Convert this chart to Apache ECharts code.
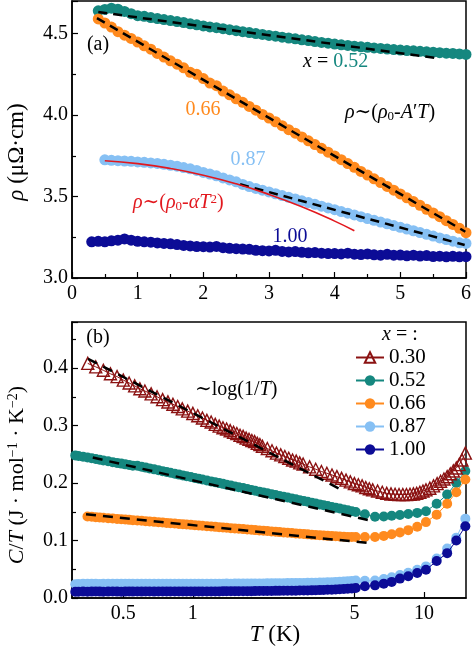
<!DOCTYPE html>
<html><head><meta charset="utf-8">
<script src="https://cdn.jsdelivr.net/npm/echarts@6/dist/echarts.min.js"></script>
<style>html,body{margin:0;padding:0;background:#fff}#c{width:474px;height:651px}</style>
</head><body><div id="c"></div>
<script>
// ---------- Panel (a): resistivity vs T ----------
const tA = [0.3,0.4,0.5,0.6,0.7,0.8,0.9,1.0,1.1,1.2,1.3,1.4,1.5,1.6,1.7,1.8,1.9,2.0,2.1,2.2,2.3,2.4,2.5,2.6,2.7,2.8,2.9,3.0,3.1,3.2,3.3,3.4,3.5,3.6,3.7,3.8,3.9,4.0,4.1,4.2,4.3,4.4,4.5,4.6,4.7,4.8,4.9,5.0,5.1,5.2,5.3,5.4,5.5,5.6,5.7,5.8,5.9,6.0];
const rho052 = [null,4.640,4.648,4.656,4.650,4.636,4.622,4.610,4.606,4.598,4.592,4.586,4.580,4.574,4.568,4.560,4.554,4.547,4.541,4.536,4.530,4.524,4.518,4.512,4.506,4.500,4.495,4.489,4.484,4.478,4.473,4.468,4.462,4.457,4.451,4.446,4.441,4.436,4.431,4.427,4.423,4.419,4.416,4.412,4.409,4.405,4.402,4.399,4.396,4.394,4.391,4.388,4.386,4.383,4.380,4.378,4.375,4.372];
const rho066 = [null,4.590,4.565,4.540,4.512,4.490,4.470,4.448,4.425,4.404,4.378,4.356,4.333,4.312,4.290,4.262,4.250,4.224,4.196,4.180,4.147,4.124,4.100,4.078,4.053,4.030,4.004,3.982,3.959,3.935,3.910,3.889,3.866,3.842,3.819,3.796,3.772,3.749,3.726,3.702,3.679,3.654,3.632,3.609,3.586,3.562,3.539,3.516,3.492,3.469,3.446,3.422,3.399,3.376,3.352,3.329,3.305,3.278];
const rho087 = [null,null,3.725,3.722,3.720,3.718,3.716,3.712,3.710,3.706,3.703,3.698,3.692,3.686,3.678,3.670,3.660,3.648,3.638,3.627,3.614,3.602,3.590,3.574,3.561,3.550,3.539,3.528,3.517,3.506,3.495,3.485,3.474,3.463,3.452,3.441,3.430,3.419,3.408,3.398,3.387,3.376,3.365,3.354,3.343,3.333,3.322,3.311,3.300,3.290,3.279,3.268,3.257,3.246,3.236,3.226,3.216,3.212];
const rho100 = [3.222,3.225,3.222,3.228,3.232,3.240,3.232,3.225,3.222,3.220,3.215,3.212,3.210,3.205,3.200,3.197,3.193,3.192,3.190,3.194,3.186,3.182,3.180,3.178,3.176,3.170,3.168,3.166,3.170,3.163,3.160,3.162,3.158,3.155,3.156,3.152,3.150,3.150,3.148,3.152,3.146,3.144,3.148,3.142,3.140,3.145,3.140,3.141,3.136,3.140,3.135,3.138,3.132,3.134,3.130,3.133,3.130,3.131];
// fits (end points) in panel (a)
const fitA052 = [[0.40,4.632],[5.55,4.350]];
const fitA066 = [[0.38,4.595],[5.99,3.284]];
const fitA087 = [[2.56,3.575],[5.98,3.203]];
const tRed = [0.5,1.0,1.5,2.0,2.5,3.0,3.5,4.0,4.3];
const rhoRed = [3.720,3.702,3.672,3.631,3.578,3.513,3.437,3.349,3.290];

// ---------- Panel (b): C/T vs T (log) ----------
const tB = [0.31,0.32,0.335,0.35,0.365,0.38,0.395,0.41,0.43,0.45,
 0.47,0.49,0.51,0.53,0.55,0.575,0.6,0.625,0.65,0.68,
 0.71,0.74,0.77,0.8,0.835,0.87,0.905,0.94,0.98,1.02,
 1.06,1.1,1.15,1.2,1.25,1.3,1.35,1.4,1.46,1.52,
 1.58,1.65,1.72,1.79,1.86,1.94,2.02,2.1,2.19,2.28,
 2.37,2.47,2.57,2.68,2.79,2.9,3.02,3.14,3.27,3.4,
 3.54,3.68,3.83,3.99,4.15,4.32,4.5,4.68,4.87,5.07,
 5.55,6.14,6.7,7.25,7.87,8.55,9.35,10.2,11.35,12.6,13.8,15.1];
const c052 = [0.248,0.247,0.2456,0.2442,0.2429,0.2416,0.2404,0.2392,0.2378,0.2363,
 0.2350,0.2337,0.2324,0.2312,0.2301,0.2299,0.2284,0.2268,0.2254,0.2237,
 0.2222,0.2206,0.2192,0.2177,0.2161,0.2146,0.2132,0.2118,0.2103,0.2087,
 0.2074,0.2060,0.2043,0.2028,0.2013,0.1998,0.1985,0.1971,0.1956,0.1940,
 0.1926,0.1911,0.1894,0.1880,0.1866,0.1850,0.1836,0.1821,0.1806,0.1791,
 0.1776,0.1761,0.1747,0.1731,0.1716,0.1702,0.1687,0.1673,0.1657,0.1644,
 0.1628,0.1614,0.1599,0.1584,0.1570,0.1555,0.1540,0.1526,0.1510,0.1496,
 0.1456,0.1412,0.1418,0.1430,0.1445,0.1460,0.1480,0.1510,0.1640,0.1800,0.2000,0.2210];
const c066 = [null,null,null,0.1418,0.1412,0.1406,0.1401,0.1395,0.1389,0.1382,
 0.1376,0.1370,0.1364,0.1359,0.1354,0.1347,0.1342,0.1336,0.1330,0.1324,
 0.1318,0.1312,0.1306,0.1301,0.1295,0.1289,0.1283,0.1278,0.1272,0.1266,
 0.1261,0.1256,0.1249,0.1243,0.1237,0.1232,0.1226,0.1221,0.1215,0.1209,
 0.1204,0.1198,0.1192,0.1186,0.1181,0.1175,0.1169,0.1164,0.1158,0.1152,
 0.1146,0.1140,0.1135,0.1129,0.1123,0.1118,0.1112,0.1107,0.1101,0.1096,
 0.1091,0.1086,0.1081,0.1077,0.1073,0.1069,0.1066,0.1063,0.1061,0.1060,
 0.106,0.106,0.108,0.111,0.114,0.118,0.124,0.132,0.145,0.164,0.184,0.206];
const c087 = [0.0240,0.0245,0.0247,0.0246,0.0248,0.0247,0.0245,0.0248,0.0247,0.0246,
 0.0247,0.0248,0.0246,0.0247,0.0248,0.0247,0.0246,0.0248,0.0247,0.0248,
 0.0247,0.0248,0.0247,0.0248,0.0248,0.0247,0.0248,0.0249,0.0248,0.0249,
 0.0249,0.0248,0.0250,0.0249,0.0250,0.0250,0.0249,0.0251,0.0250,0.0251,
 0.0251,0.0252,0.0252,0.0253,0.0253,0.0254,0.0254,0.0255,0.0256,0.0256,
 0.0257,0.0258,0.0259,0.0260,0.0261,0.0262,0.0263,0.0264,0.0266,0.0267,
 0.0269,0.0271,0.0273,0.0275,0.0278,0.0281,0.0285,0.0290,0.0296,0.0303,
 0.0300,0.0305,0.0330,0.0360,0.0400,0.0440,0.0490,0.0550,0.0685,0.0860,0.1050,0.1380];
const c100 = [0.0108,0.0110,0.0111,0.0110,0.0111,0.0112,0.0111,0.0110,0.0111,0.0112,
 0.0111,0.0110,0.0111,0.0112,0.0111,0.0112,0.0111,0.0112,0.0112,0.0111,
 0.0112,0.0112,0.0113,0.0112,0.0113,0.0112,0.0113,0.0113,0.0114,0.0113,
 0.0114,0.0114,0.0115,0.0114,0.0115,0.0115,0.0116,0.0116,0.0117,0.0117,
 0.0118,0.0118,0.0119,0.0119,0.0120,0.0121,0.0121,0.0122,0.0123,0.0124,
 0.0124,0.0125,0.0126,0.0127,0.0128,0.0129,0.0130,0.0131,0.0133,0.0135,
 0.0137,0.0139,0.0142,0.0145,0.0148,0.0152,0.0156,0.0161,0.0167,0.0175,
 0.0203,0.0220,0.0250,0.0280,0.0337,0.0377,0.0435,0.0490,0.0643,0.0780,0.1000,0.1247];
const tTri = [0.351,0.38,0.41,0.44,0.47,0.50,0.53,0.56,0.59,0.62,0.66,0.70,0.74,0.78,0.82,0.86,0.90,0.95,1.00,
 1.05,1.10,1.15,1.20,1.25,1.30,1.35,1.40,1.45,1.50,1.55,1.60,1.65,1.70,1.75,1.80,1.85,1.90,1.95,2.00,
 2.10,2.20,2.30,2.40,2.50,2.60,2.70,2.80,2.90,3.00,
 3.20,3.40,3.60,3.80,4.00,4.20,4.40,4.60,4.80,5.00,5.20,5.40,5.60,5.80,6.00,
 6.30,6.60,6.90,7.20,7.50,7.80,8.10,8.40,8.70,9.00,9.30,9.60,9.90,
 10.2,10.6,11.0,11.4,11.8,12.2,12.6,13.0,13.4,13.8,14.2,14.6,15.1];
const c030 = [0.408,0.402,0.396,0.390,0.385,0.379,0.374,0.369,0.364,0.360,0.355,0.350,0.345,0.341,0.337,0.333,0.329,0.325,0.321,
 0.317,0.313,0.309,0.306,0.302,0.299,0.296,0.294,0.291,0.288,0.286,0.283,0.281,0.278,0.276,0.274,0.272,0.269,0.267,0.264,
 0.260,0.256,0.252,0.249,0.246,0.243,0.240,0.238,0.235,0.233,
 0.228,0.224,0.220,0.217,0.214,0.211,0.208,0.205,0.202,0.199,0.197,0.195,0.192,0.190,0.188,
 0.186,0.184,0.182,0.181,0.1805,0.180,0.180,0.180,0.1805,0.181,0.182,0.184,0.186,
 0.188,0.191,0.195,0.199,0.203,0.207,0.211,0.216,0.221,0.226,0.232,0.240,0.252];
const fitB030 = [[0.352,0.416],[4.50,0.186]];
const fitB052 = [[0.369,0.2442],[5.95,0.134]];
const fitB066 = [[0.345,0.1456],[5.95,0.095]];
const xTicksB = [0.5,1,5,10];
const legendNames = ['0.30','0.52','0.66','0.87','1.00'];

// ---------- styling ----------
const F = '"Liberation Serif", "DejaVu Serif", serif';
const COL = {c030:'#8b1212', c052:'#15877f', c066:'#ff8a1e', c087:'#86c0f4', c100:'#0c0c96', red:'#e2181e'};
const zip = (xs, ys) => xs.map((x,i)=> ys[i]==null ? null : [x, ys[i]]).filter(Boolean);

function scatterA(ys, color){
  return {type:'scatter', xAxisIndex:0, yAxisIndex:0, data: zip(tA, ys), symbol:'circle', symbolSize:11,
    itemStyle:{color, opacity:1}, clip:false, silent:true, z:2};
}
function dashA(pts){
  return {type:'line', xAxisIndex:0, yAxisIndex:0, data: pts, symbol:'none',
    lineStyle:{color:'#000', width:2.5, type:[9,6]}, clip:false, silent:true, z:4};
}
function dashB(pts){
  return {type:'line', xAxisIndex:1, yAxisIndex:1, data: pts, symbol:'none',
    lineStyle:{color:'#000', width:2.5, type:[10,7]}, clip:false, silent:true, z:5};
}
function lineB(name, xs, ys, color, z){
  return {type:'line', name, xAxisIndex:1, yAxisIndex:1, data: zip(xs, ys), symbol:'circle', symbolSize:10,
    showSymbol:true, itemStyle:{color}, lineStyle:{color, width:1}, clip:false, silent:true, z};
}

const txt = (x,y,text,extra) => ({type:'text', x, y, silent:true, z:20,
  style: Object.assign({text, font:'20px ' + F, fill:'#000', align:'center', verticalAlign:'middle',
    textAlign:'center', textVerticalAlign:'middle'}, extra||{})});
const richBase = {
  i:{fontStyle:'italic', fontSize:20, fontFamily:F},
  s:{fontSize:13, fontFamily:F, verticalAlign:'bottom', lineHeight:13},
  p:{fontSize:13, fontFamily:F, verticalAlign:'top', lineHeight:13}
};
const axisLbl = {color:'#000', fontFamily:F, fontSize:20};

const chart = echarts.init(document.getElementById('c'), null, {renderer:'canvas'});
chart.setOption({
  animation:false,
  backgroundColor:'#fff',
  textStyle:{fontFamily:F},
  grid:[
    {left:72, top:1, right:8, height:277, show:true, borderColor:'#000', borderWidth:1.5, backgroundColor:'#fff'},
    {left:72, top:322, right:8, height:276, show:true, borderColor:'#000', borderWidth:1.5, backgroundColor:'#fff'}
  ],
  xAxis:[
    {type:'value', gridIndex:0, min:0, max:6, interval:1,
     axisLine:{show:true, lineStyle:{color:'#000', width:1.5}},
     axisTick:{show:true, inside:true, length:6, lineStyle:{color:'#000', width:1.2}},
     minorTick:{show:true, splitNumber:2, length:4, lineStyle:{color:'#000', width:1.2}},
     splitLine:{show:false},
     axisLabel:Object.assign({margin:6}, axisLbl)},
    {type:'log', logBase:10, gridIndex:1, min:0.3, max:15.2,
     axisLine:{show:true, lineStyle:{color:'#000', width:1.5}},
     axisTick:{show:true, inside:true, length:6, customValues:xTicksB, lineStyle:{color:'#000', width:1.2}},
     minorTick:{show:false},
     splitLine:{show:false},
     axisLabel:Object.assign({margin:6, customValues:xTicksB, formatter:(v)=>String(+(+v).toPrecision(3))}, axisLbl)}
  ],
  yAxis:[
    {type:'value', gridIndex:0, min:3.0, max:4.7, interval:0.5,
     axisLine:{show:true, lineStyle:{color:'#000', width:1.5}},
     axisTick:{show:true, inside:true, length:6, lineStyle:{color:'#000', width:1.2}},
     minorTick:{show:true, splitNumber:2, length:4, lineStyle:{color:'#000', width:1.2}},
     splitLine:{show:false},
     axisLabel:Object.assign({margin:4, showMaxLabel:false, formatter:(v)=>(+v).toFixed(1)}, axisLbl)},
    {type:'value', gridIndex:1, min:0, max:0.48, interval:0.1,
     axisLine:{show:true, lineStyle:{color:'#000', width:1.5}},
     axisTick:{show:true, inside:true, length:6, lineStyle:{color:'#000', width:1.2}},
     minorTick:{show:true, splitNumber:2, length:4, lineStyle:{color:'#000', width:1.2}},
     splitLine:{show:false},
     axisLabel:Object.assign({margin:4, showMaxLabel:false, formatter:(v)=>(+v).toFixed(1)}, axisLbl)}
  ],
  legend:{
    data: legendNames, orient:'vertical', left:350, top:342, itemWidth:28, itemHeight:13, itemGap:2,
    selectedMode:false, textStyle:{fontFamily:F, fontSize:21, color:'#000', lineHeight:20}
  },
  series:[
    scatterA(rho052, COL.c052),
    scatterA(rho066, COL.c066),
    scatterA(rho087, COL.c087),
    scatterA(rho100, COL.c100),
    dashA(fitA052), dashA(fitA066), dashA(fitA087),
    {type:'line', xAxisIndex:0, yAxisIndex:0, data: zip(tRed, rhoRed), smooth:true, symbol:'none',
     lineStyle:{color:COL.red, width:1.6}, clip:false, silent:true, z:5},
    {type:'line', name:'0.30', xAxisIndex:1, yAxisIndex:1, data: zip(tTri, c030), symbol:'triangle', symbolSize:12,
     itemStyle:{color:'rgba(255,255,255,0)', borderColor:COL.c030, borderWidth:1.4},
     lineStyle:{color:COL.c030, width:1}, clip:false, silent:true, z:3},
    lineB('0.52', tB, c052, COL.c052, 2),
    lineB('0.66', tB, c066, COL.c066, 2),
    lineB('0.87', tB, c087, COL.c087, 2),
    lineB('1.00', tB, c100, COL.c100, 3),
    dashB(fitB030), dashB(fitB052), dashB(fitB066)
  ],
  graphic:[
    txt(98,45,'(a)'),
    txt(303,62,'{i|x} = {c|0.52}',{align:'left',textAlign:'left', rich:Object.assign({c:{fill:COL.c052,fontSize:20,fontFamily:F}},richBase)}),
    txt(203,110,'0.66',{fill:COL.c066}),
    txt(345,113,'{i|ρ}∼({i|ρ}{s|0}-{i|A}′{i|T})',{align:'left',textAlign:'left', rich:richBase}),
    txt(248,160,'0.87',{fill:COL.c087}),
    txt(133,203,'{i|ρ}∼({i|ρ}{s|0}-{i|α}{i|T}{p|2})',{align:'left',textAlign:'left', fill:COL.red,
       rich:{i:{fontStyle:'italic',fontSize:20,fontFamily:F,fill:COL.red}, s:{fontSize:13,fontFamily:F,verticalAlign:'bottom',lineHeight:13,fill:COL.red}, p:{fontSize:13,fontFamily:F,verticalAlign:'top',lineHeight:13,fill:COL.red}}}),
    txt(290,237,'1.00',{fill:COL.c100}),
    Object.assign(txt(17,152,'{i|ρ} (μΩ·cm)',{font:'23px ' + F, rich:{i:{fontStyle:'italic',fontSize:23,fontFamily:F}}}),{rotation:Math.PI/2}),
    txt(98,338,'(b)'),
    txt(382,335,'{i|x} = :',{align:'left',textAlign:'left', rich:richBase}),
    txt(195,390,'∼log(1/{i|T})',{align:'left',textAlign:'left', rich:richBase}),
    Object.assign(txt(17,475,'{i|C}/{i|T} (J · mol{p|−1} · K{p|−2})',{font:'22px ' + F,
       rich:{i:{fontStyle:'italic',fontSize:22,fontFamily:F}, p:{fontSize:14,fontFamily:F,verticalAlign:'top',lineHeight:14}}}),{rotation:Math.PI/2}),
    txt(275,635,'{i|T} (K)',{font:'23px ' + F, rich:{i:{fontStyle:'italic',fontSize:23,fontFamily:F}}})
  ]
});
</script></body></html>
